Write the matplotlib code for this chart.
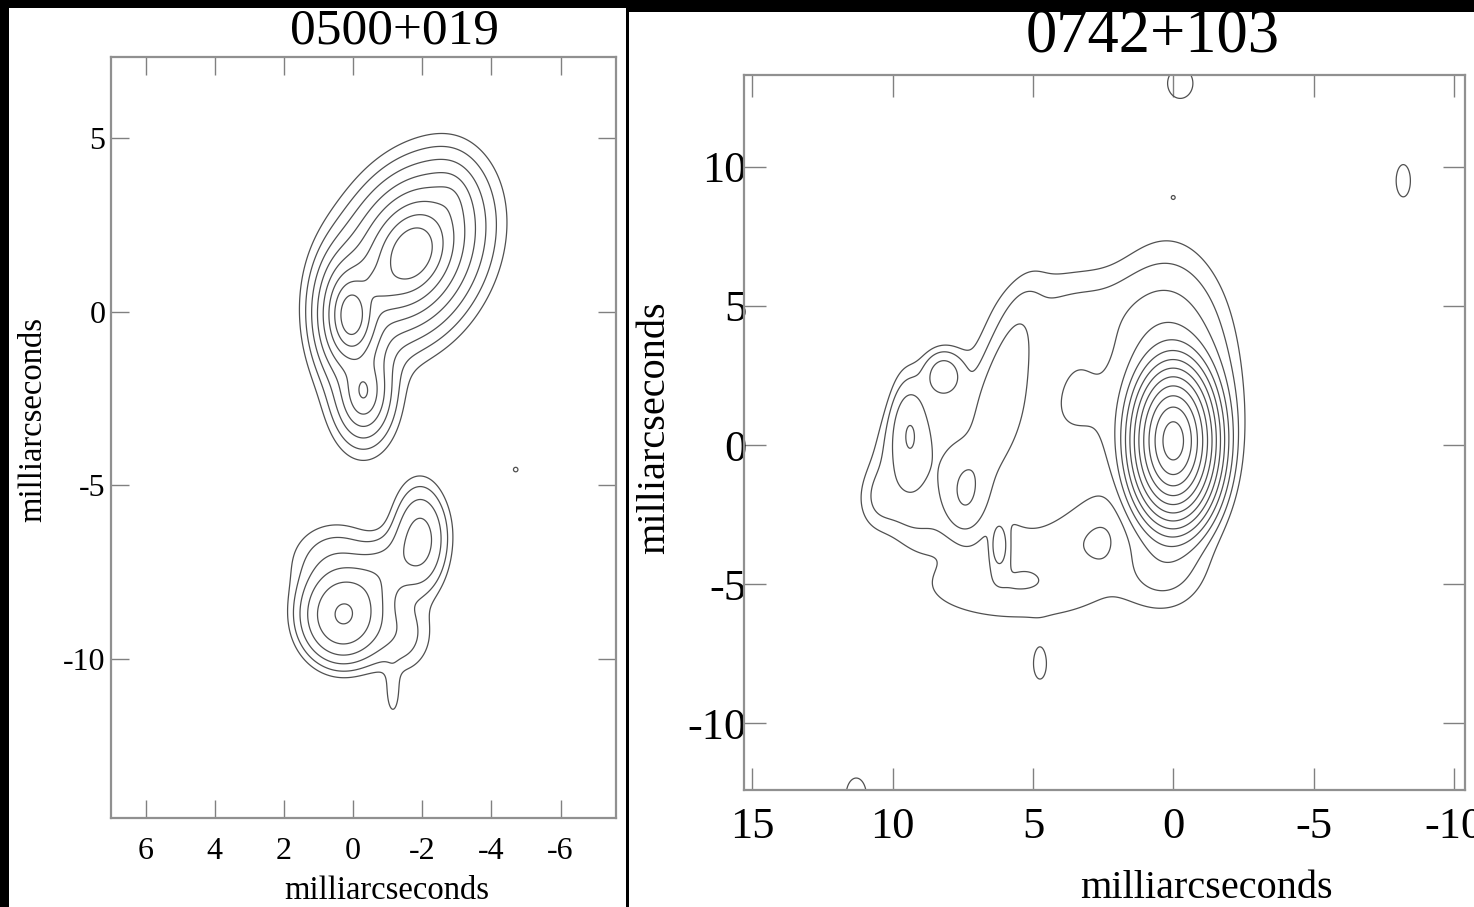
import numpy as np
import matplotlib
matplotlib.use("Agg")
import matplotlib.pyplot as plt
from matplotlib.patches import Rectangle

# ---------------- data ----------------
# Brightness components: position (mas), relative peak, widths (mas), angle (deg), profile shape
# 0500+019
l_x    = [0.05, -1.70, -0.80, -2.80, -0.30, 0.29, -1.94, -0.80, 0.50, -1.30, -1.15, -4.70]
l_y    = [-0.10, 1.70, 0.80, 3.20, -2.30, -8.75, -6.55, -7.60, -7.20, -9.30, -11.0, -4.55]
l_amp  = [250, 300, 40, 8, 33, 33, 9.5, 5, 3, 3, 1.5, 1.1]
l_a    = [0.22, 0.47, 0.30, 0.28, 0.26, 0.60, 0.43, 1.00, 0.80, 0.60, 0.15, 0.15]
l_b    = [0.40, 0.34, 0.30, 0.42, 0.45, 0.68, 0.85, 0.50, 0.70, 0.70, 0.50, 0.15]
l_ang  = [0, 115, 0, 0, 0, 0, 0, 135, 0, 0, 0, 0]
l_beta = [0.5, 0.45, 0.5, 0.5, 0.5, 1, 1, 1, 1, 1, 1, 1]
l_levels = [1, 2, 4, 8, 16, 32, 64, 128]
l_xticks = [6, 4, 2, 0, -2, -4, -6]
l_yticks = [5, 0, -5, -10]

# 0742+103
r_x    = [0.00, 0.20, 0.30, 5.00, 9.00, 3.50, 5.50, 8.20, 9.40, 7.40, 6.20, 6.20, 3.20, 10.6,
          -8.20, 4.75, -0.25, 11.3, 0.00]
r_y    = [0.15, 1.50, -4.30, 0.30, -1.00, 4.80, -5.00, 2.50, 0.50, -1.80, -3.60, 1.80, 2.50, -2.00,
          9.50, -7.90, 13.0, -12.6, 8.90]
r_amp  = [6000, 12, 2, 3.6, 3.0, 2.0, 2.0, 6.0, 6.0, 6.0, 5.5, 5.0, 1.5, 1.5,
          1.3, 1.3, 1.5, 1.5, 1.02]
r_a    = [0.40, 1.20, 0.90, 3.00, 1.70, 2.00, 2.60, 0.45, 0.42, 0.50, 0.18, 2.00, 0.80, 0.50,
          0.35, 0.30, 0.50, 0.40, 0.10]
r_b    = [0.75, 2.60, 1.00, 3.80, 2.60, 1.10, 1.00, 0.55, 1.20, 1.00, 0.50, 0.45, 1.50, 0.80,
          0.80, 0.70, 0.60, 0.70, 0.10]
r_ang  = [0, 0, 0, 0, 0, 0, 0, 0, 0, 0, 0, -75, 0, 0, 0, 0, 0, 0, 0]
r_beta = [0.75, 1, 1, 3, 3, 1, 1, 1, 1, 1, 1, 1, 1, 1, 1, 1, 1, 1, 1]
r_levels = [1, 2, 4, 8, 16, 32, 64, 128, 256, 512, 1024, 2048, 4096]
r_xticks = [15, 10, 5, 0, -5, -10]
r_yticks = [10, 5, 0, -5, -10]

titles = ["0500+019", "0742+103"]
axis_label = "milliarcseconds"

# ---------------- figure ----------------
W, H = 1474, 907
fig = plt.figure(figsize=(W / 100, H / 100), dpi=100, facecolor="black")
plt.rcParams["font.family"] = ["Liberation Serif", "DejaVu Serif"]


def box(x0, y0, x1, y1):
    return [x0 / W, 1 - y1 / H, (x1 - x0) / W, (y1 - y0) / H]


for (x0, y0, x1, y1) in [(9, 8, 626, 907), (629, 12, 1474, 907)]:
    b = box(x0, y0, x1, y1)
    fig.add_artist(Rectangle((b[0], b[1]), b[2], b[3], transform=fig.transFigure,
                             facecolor="white", edgecolor="none", zorder=0))


def brightness(X, Y, xs, ys, amps, As, Bs, angs, betas):
    Z = np.zeros_like(X)
    for x0, y0, amp, a, b, ang, be in zip(xs, ys, amps, As, Bs, angs, betas):
        t = np.deg2rad(ang)
        dx, dy = X - x0, Y - y0
        u = dx * np.cos(t) + dy * np.sin(t)
        v = -dx * np.sin(t) + dy * np.cos(t)
        rho2 = (u / a) ** 2 + (v / b) ** 2
        Z += amp * np.exp(-((1 + rho2) ** be - 1) / (2 * be))
    return Z


def panel(rect, xlim, ylim, comps, levels, xticks, yticks, title, fs_tick, fs_lab,
          fs_title, tlen, title_xy, xlab_xy, ylab_xy, xpad, ypad):
    ax = fig.add_axes(rect)
    ax.set_facecolor("white")
    gx = np.linspace(min(xlim), max(xlim), 800)
    gy = np.linspace(min(ylim), max(ylim), 800)
    X, Y = np.meshgrid(gx, gy)
    Z = brightness(X, Y, *comps)
    ax.contour(X, Y, Z, levels=levels, colors="#505050", linewidths=0.9)
    ax.set_xlim(*xlim)
    ax.set_ylim(*ylim)
    ax.set_xticks(xticks)
    ax.set_yticks(yticks)
    ax.set_xticklabels([str(t) for t in xticks])
    ax.set_yticklabels([str(t) for t in yticks])
    ax.tick_params(direction="in", top=True, right=True, length=tlen, width=1.0,
                   color="#808080", labelsize=fs_tick)
    ax.tick_params(axis="x", pad=xpad)
    ax.tick_params(axis="y", pad=ypad)
    for s in ax.spines.values():
        s.set_color("#909090")
        s.set_linewidth(1.6)
    ax.text(*title_xy, title, transform=fig.transFigure, fontsize=fs_title,
            ha="center", va="center")
    ax.text(*xlab_xy, axis_label, transform=fig.transFigure, fontsize=fs_lab,
            ha="center", va="center")
    ax.text(*ylab_xy, axis_label, transform=fig.transFigure, fontsize=fs_lab,
            ha="center", va="center", rotation=90)
    return ax


def fxy(px, py):
    return (px / W, 1 - py / H)


panel(box(111, 57, 616, 818), (7.0, -7.6), (-14.6, 7.35),
      (l_x, l_y, l_amp, l_a, l_b, l_ang, l_beta), l_levels, l_xticks, l_yticks,
      titles[0], 23, 23.5, 37, 13, fxy(394, 31), fxy(387, 891), fxy(33, 419), 14, 4)
panel(box(744, 75, 1465, 790), (15.3, -10.4), (-12.4, 13.3),
      (r_x, r_y, r_amp, r_a, r_b, r_ang, r_beta), r_levels, r_xticks, r_yticks,
      titles[1], 32, 29, 45, 16, fxy(1153, 37), fxy(1206, 888), fxy(655, 428), 12, -2)

fig.savefig("out.png", dpi=100, facecolor=fig.get_facecolor())
